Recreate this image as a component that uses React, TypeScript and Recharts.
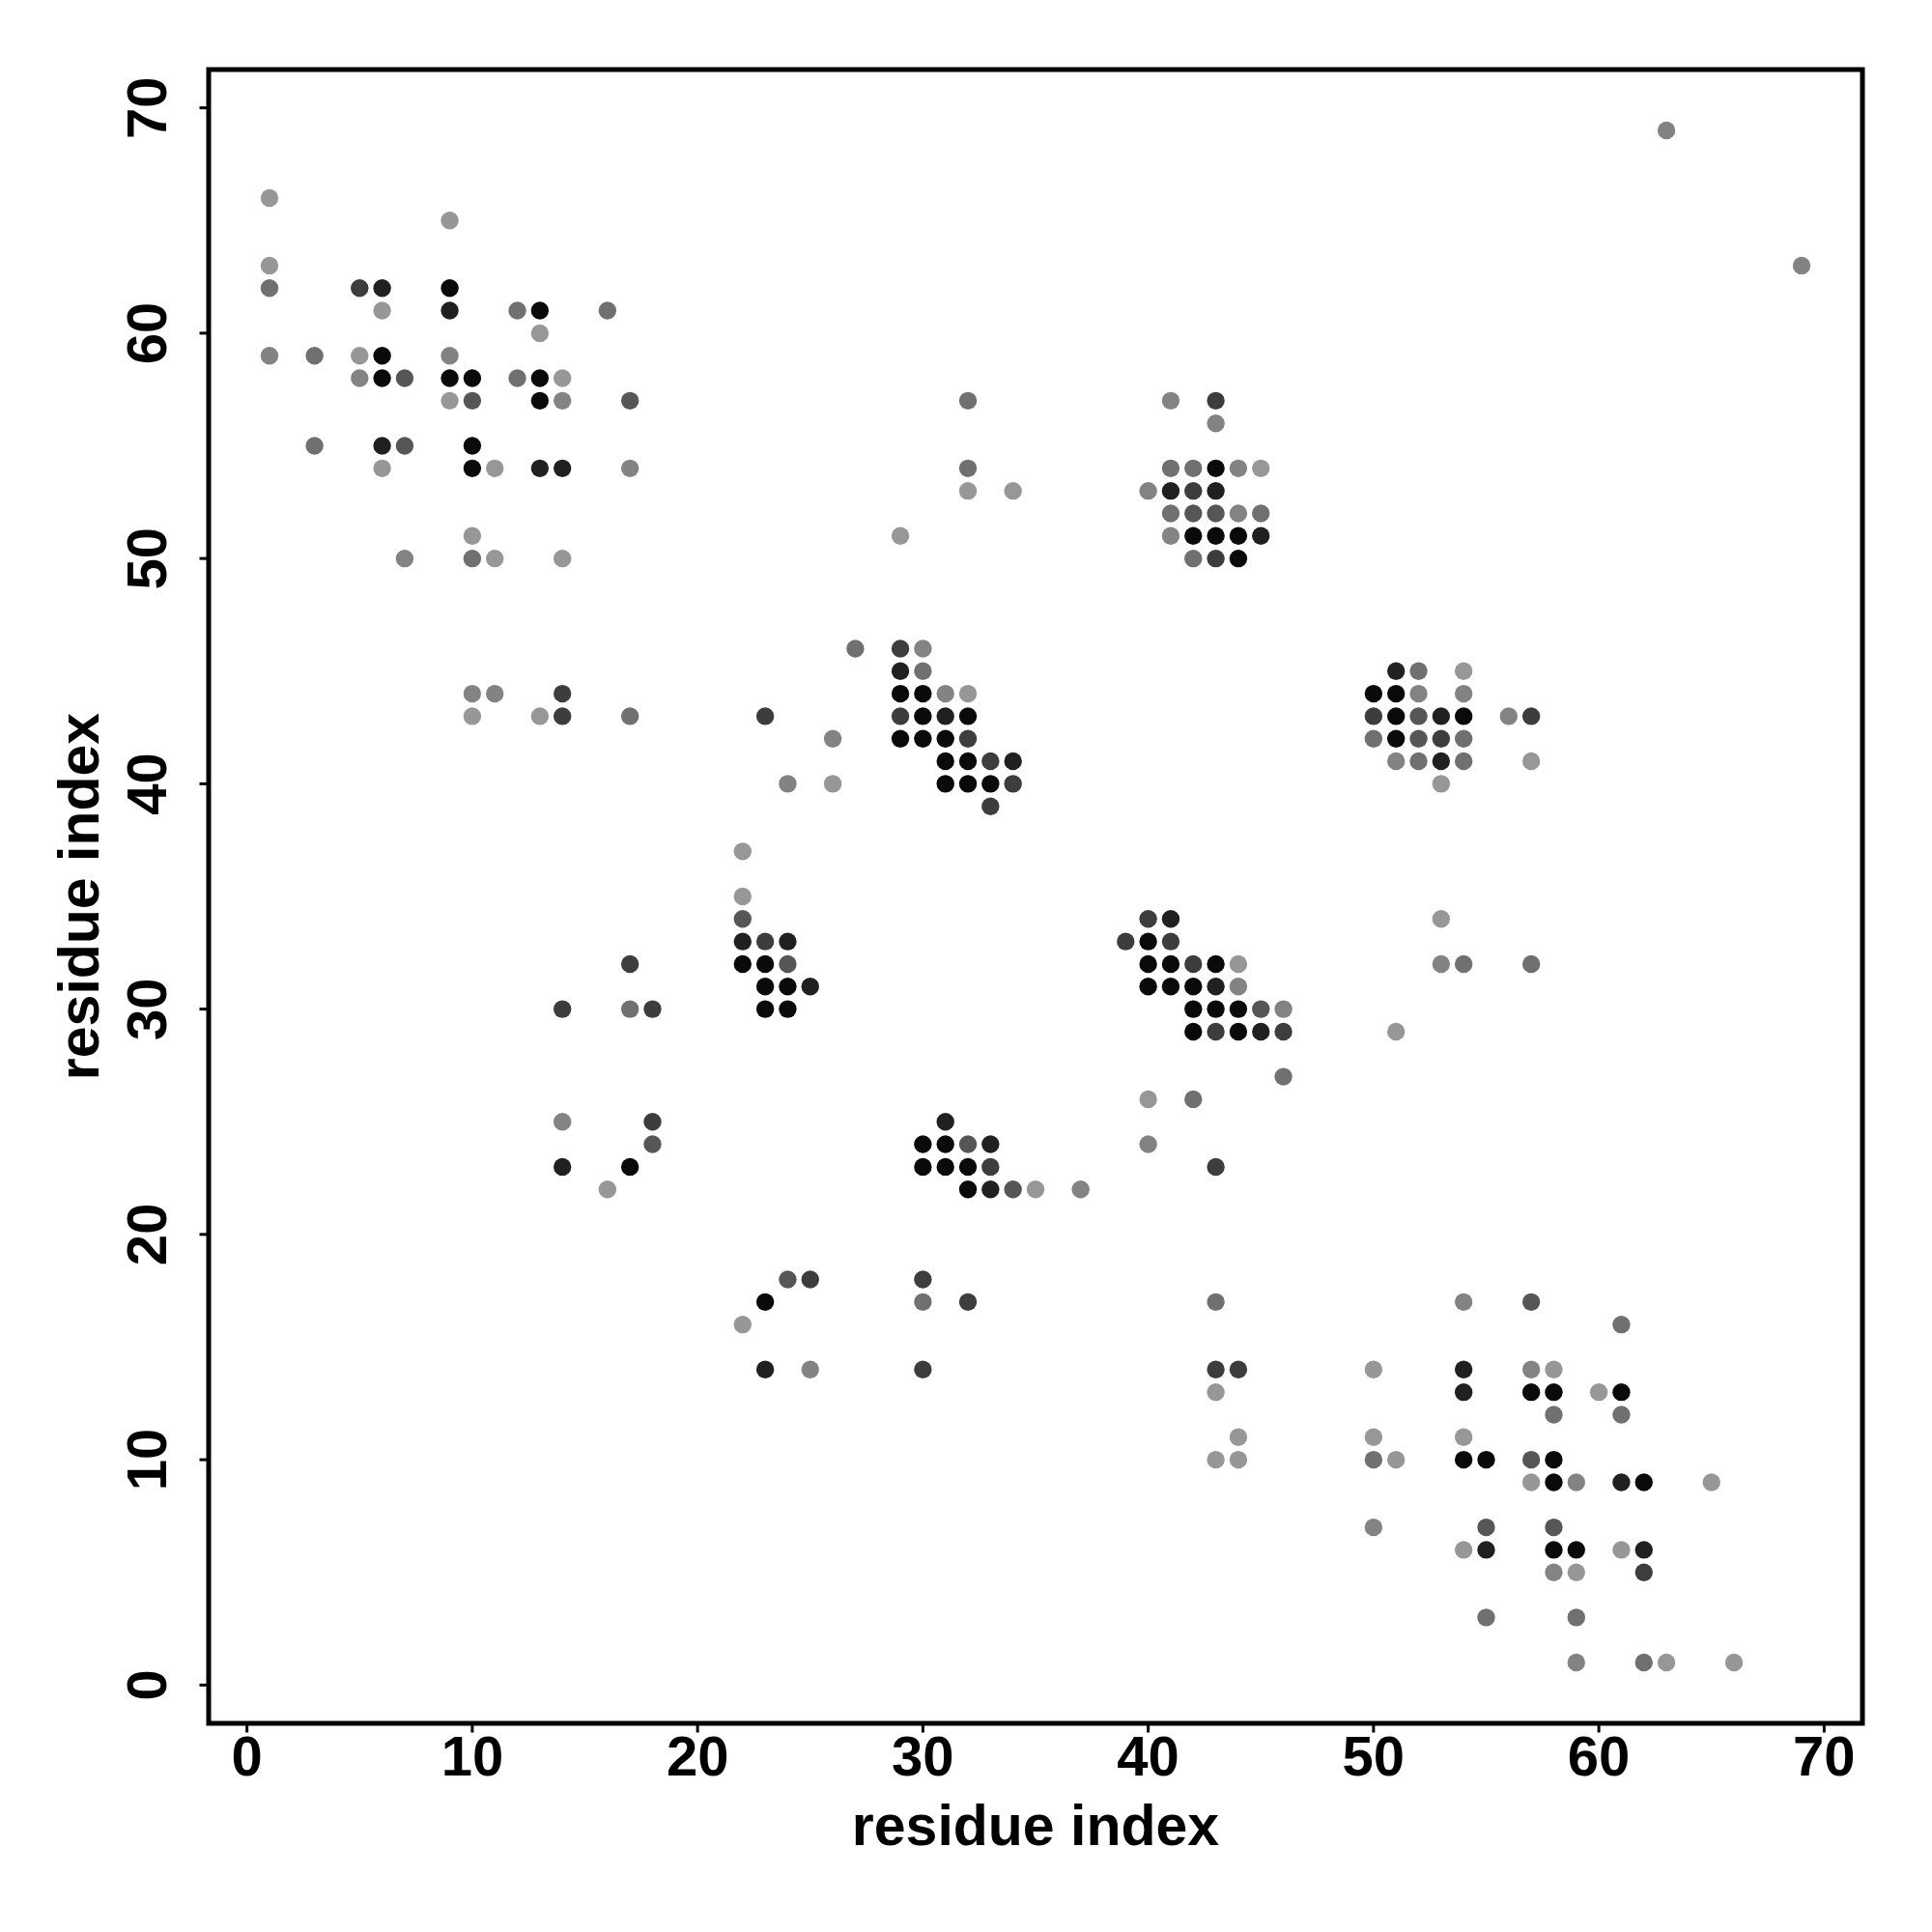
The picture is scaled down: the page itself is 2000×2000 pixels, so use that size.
import React from 'react'
import { ScatterChart, Scatter, XAxis, YAxis, ReferenceArea, Label } from 'recharts'

type Pt = [number, number]

const ticks = [0, 10, 20, 30, 40, 50, 60, 70]
const domain: [number, number] = [-1.7, 71.7]
const axisTitle = 'residue index'

// contacts grouped by shade, darkest first
const blackPts: Pt[] = [
  [9, 62], [13, 61], [6, 59], [6, 58], [9, 58], [10, 58], [13, 58], [13, 57], [10, 55], [10, 54],
  [17, 23],
  [29, 44], [30, 44], [30, 43], [32, 43], [29, 42], [30, 42], [31, 42], [31, 41], [32, 41],
  [31, 40], [32, 40], [33, 40],
  [22, 32], [23, 32], [23, 31], [24, 31], [23, 30], [24, 30],
  [30, 24], [31, 24], [30, 23], [31, 23], [32, 23], [32, 22], [23, 17],
  [43, 54], [42, 51], [43, 51], [44, 51], [44, 50],
  [40, 33], [40, 32], [41, 32], [43, 32], [40, 31], [41, 31], [42, 31], [42, 30], [43, 30], [44, 30],
  [42, 29], [44, 29],
  [50, 44], [51, 44], [51, 43], [54, 43], [51, 42],
  [57, 13], [58, 13], [61, 13], [54, 10], [55, 10], [58, 10], [58, 9], [62, 9], [58, 6], [59, 6],
]

const darkPts: Pt[] = [
  [6, 62], [9, 61], [6, 55], [13, 54], [14, 54], [14, 23],
  [29, 45], [31, 43], [34, 41], [22, 33], [24, 33], [25, 31],
  [31, 25], [33, 24], [33, 22], [23, 14],
  [41, 53], [43, 53], [45, 51],
  [41, 34], [43, 31], [45, 29],
  [51, 45], [53, 43], [53, 41],
  [54, 14], [54, 13], [61, 9], [55, 6], [62, 6],
]

const dark2Pts: Pt[] = [
  [5, 62], [14, 44], [14, 43], [17, 32], [14, 30], [18, 30], [18, 25],
  [29, 46], [23, 43], [29, 43], [32, 42], [33, 41], [34, 40], [33, 39], [23, 33],
  [33, 23], [25, 18], [30, 18], [32, 17], [30, 14],
  [43, 57], [42, 53], [43, 50],
  [40, 34], [39, 33], [41, 33], [42, 32], [43, 29], [46, 29], [43, 23], [43, 14], [44, 14],
  [50, 43], [57, 43], [53, 42],
  [62, 5],
]

const midPts: Pt[] = [
  [7, 58], [10, 57], [17, 57], [7, 55], [18, 24],
  [22, 34], [24, 32], [32, 24], [34, 22], [24, 18],
  [42, 52], [43, 52], [45, 30],
  [52, 43], [52, 42],
  [57, 17], [57, 10], [55, 7], [58, 7],
]

const mid2Pts: Pt[] = [
  [1, 62], [12, 61], [16, 61], [3, 59], [12, 58], [3, 55], [10, 50], [17, 43], [17, 30],
  [27, 46], [30, 45], [30, 17],
  [32, 57], [32, 54], [41, 54], [42, 54], [41, 52], [45, 52], [42, 50],
  [46, 27], [42, 26], [43, 17],
  [52, 45], [50, 42], [54, 42], [52, 41], [54, 41], [54, 32], [57, 32],
  [61, 16], [58, 12], [61, 12], [50, 10], [55, 3], [59, 3], [62, 1],
]

const lightPts: Pt[] = [
  [1, 59], [9, 59], [5, 58], [14, 57], [17, 54], [7, 50], [10, 44], [11, 44], [14, 25],
  [30, 46], [31, 44], [26, 42], [24, 40], [37, 22], [25, 14],
  [41, 57], [43, 56], [44, 54], [40, 53], [44, 52], [41, 51],
  [44, 31], [46, 30], [40, 24],
  [52, 44], [54, 44], [56, 43], [51, 41], [53, 32],
  [54, 17], [57, 14], [59, 9], [50, 7], [58, 5], [59, 1],
  [63, 69], [69, 63],
]

const light2Pts: Pt[] = [
  [1, 66], [9, 65], [1, 63], [6, 61], [13, 60], [5, 59], [14, 58], [9, 57], [6, 54], [11, 54],
  [10, 51], [11, 50], [14, 50], [10, 43], [13, 43], [16, 22],
  [32, 44], [26, 40], [22, 37], [22, 35], [35, 22], [22, 16],
  [29, 51], [32, 53], [34, 53], [45, 54],
  [44, 32], [40, 26], [43, 13], [44, 11], [43, 10], [44, 10],
  [54, 45], [57, 41], [53, 40], [53, 34], [51, 29],
  [50, 14], [58, 14], [60, 13], [50, 11], [54, 11], [51, 10], [57, 9], [65, 9], [54, 6], [61, 6],
  [59, 5], [63, 1], [66, 1],
]

const series = [
  { name: 'light2', color: '#979797', pts: light2Pts },
  { name: 'light', color: '#838383', pts: lightPts },
  { name: 'mid2', color: '#707070', pts: mid2Pts },
  { name: 'mid', color: '#565656', pts: midPts },
  { name: 'dark2', color: '#3d3d3d', pts: dark2Pts },
  { name: 'dark', color: '#202020', pts: darkPts },
  { name: 'black', color: '#0a0a0a', pts: blackPts },
]

const font = '"Liberation Sans", Arial, Helvetica, sans-serif'
const fontSize = 58

const YTick = (props: any) => {
  const { x, y, payload } = props
  return (
    <text
      x={x}
      y={y}
      transform={`rotate(-90, ${x}, ${y})`}
      textAnchor="middle"
      fontFamily={font}
      fontSize={fontSize}
      fontWeight="bold"
      fill="#000"
    >
      {payload.value}
    </text>
  )
}

export default function App() {
  return (
    <div style={{ position: 'absolute', left: 0, top: 0, background: '#fff' }}>
      <ScatterChart width={2000} height={2000} margin={{ top: 72, right: 72, bottom: 116, left: 66 }}>
        <XAxis
          type="number"
          dataKey="x"
          domain={domain}
          ticks={ticks}
          allowDataOverflow
          height={100}
          axisLine={false}
          tickLine={{ stroke: '#000', strokeWidth: 3 }}
          tickSize={9.5}
          tickMargin={3.5}
          tick={{ fontFamily: font, fontSize, fontWeight: 'bold', fill: '#000' }}
        >
          <Label
            content={(p: any) => {
              const vb = p.viewBox || { x: 216, y: 1784, width: 1712 }
              return (
                <text
                  x={vb.x + vb.width / 2}
                  y={vb.y + 126}
                  textAnchor="middle"
                  fontFamily={font}
                  fontSize={fontSize + 1}
                  fontWeight="bold"
                  fill="#000"
                >
                  {axisTitle}
                </text>
              )
            }}
          />
        </XAxis>
        <YAxis
          type="number"
          dataKey="y"
          domain={domain}
          ticks={ticks}
          allowDataOverflow
          width={150}
          axisLine={false}
          tickLine={{ stroke: '#000', strokeWidth: 3 }}
          tickSize={9.5}
          tickMargin={34.5}
          tick={<YTick />}
        >
          <Label
            content={(p: any) => {
              const vb = p.viewBox || { x: 66, y: 72, height: 1712 }
              const cx = vb.x + 36
              const cy = vb.y + vb.height / 2
              return (
                <text
                  x={cx}
                  y={cy}
                  transform={`rotate(-90, ${cx}, ${cy})`}
                  textAnchor="middle"
                  fontFamily={font}
                  fontSize={fontSize + 1}
                  fontWeight="bold"
                  fill="#000"
                >
                  {axisTitle}
                </text>
              )
            }}
          />
        </YAxis>
        {series.map((s) => (
          <Scatter
            key={s.name}
            name={s.name}
            data={s.pts.map(([x, y]) => ({ x, y }))}
            isAnimationActive={false}
            shape={(p: any) => <circle cx={p.cx} cy={p.cy} r={9.2} fill={s.color} />}
          />
        ))}
        <ReferenceArea
          x1={domain[0]}
          x2={domain[1]}
          y1={domain[0]}
          y2={domain[1]}
          fill="none"
          fillOpacity={0}
          stroke="#000"
          strokeWidth={5}
          strokeOpacity={1}
          ifOverflow="visible"
        />
      </ScatterChart>
    </div>
  )
}
